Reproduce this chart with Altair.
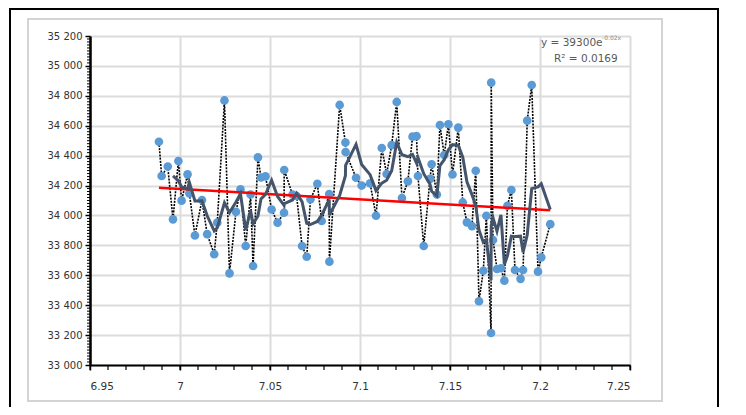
import altair as alt
import pandas as pd

# distance (x) and elevation (y), in x order
dist = [6.9883, 6.9898, 6.9932, 6.9961, 6.9991, 7.0009, 7.0042, 7.0052, 7.0083, 7.0122,
        7.0151, 7.0190, 7.0207, 7.0247, 7.0275, 7.0311, 7.0336, 7.0365, 7.0392, 7.0406,
        7.0433, 7.0450, 7.0475, 7.0509, 7.0542, 7.0578, 7.0579, 7.0625, 7.0648, 7.0678,
        7.0704, 7.0725, 7.0763, 7.0787, 7.0829, 7.0830, 7.0887, 7.0919, 7.0920, 7.0978,
        7.1009, 7.1056, 7.1089, 7.1121, 7.1148, 7.1176, 7.1204, 7.1233, 7.1266, 7.1292,
        7.1314, 7.1322, 7.1354, 7.1389, 7.1398, 7.1427, 7.1444, 7.1468, 7.1491, 7.1514,
        7.1546, 7.1571, 7.1594, 7.1622, 7.1643, 7.1661, 7.1685, 7.1702, 7.1728, 7.1729,
        7.1739, 7.1761, 7.1783, 7.1802, 7.1819, 7.1841, 7.1861, 7.1892, 7.1906, 7.1929,
        7.1954, 7.1989, 7.2007, 7.2057]
elev = [34493, 34264, 34327, 33974, 34364, 34099, 34275, 34148, 33866, 34103,
        33875, 33741, 33952, 34769, 33613, 34025, 34174, 33796, 34140, 33662,
        34388, 34254, 34261, 34040, 33952, 34018, 34304, 34140, 34130, 33796,
        33724, 34108, 34212, 33963, 34143, 33691, 34739, 34488, 34424, 34252,
        34200, 34215, 33998, 34451, 34277, 34470, 34759, 34117, 34228, 34527,
        34530, 34264, 33796, 34245, 34342, 34140, 34605, 34404, 34610, 34274,
        34587, 34087, 33954, 33929, 34299, 33426, 33630, 33998, 33214, 34888,
        33836, 33642, 33647, 33564, 34065, 34170, 33635, 33576, 33635, 34634,
        34872, 33624, 33720, 33942]

# exponential trendline end points
trend_x = [6.9883, 7.2057]
trend_y = [34185, 34035]

eq_text = "y = 39300e"
eq_exp = "-0.02x"
r2_text = "R² = 0.0169"

x_major = [6.95, 7.0, 7.05, 7.1, 7.15, 7.2, 7.25]
y_major = list(range(33000, 35201, 200))
x_minor = [round(6.95 + 0.01 * i, 2) for i in range(31)]
y_minor = [v for v in range(33000, 35201, 20) if v % 200 != 0]

df = pd.DataFrame({"idx": list(range(len(dist))), "dist": dist, "elev": elev})
trend_df = pd.DataFrame({"dist": trend_x, "elev": trend_y})

FONT = "DejaVu Sans"
xs = alt.Scale(domain=[6.95, 7.25], nice=False, zero=False)
ys = alt.Scale(domain=[33000, 35200], nice=False, zero=False)

x_axis = alt.Axis(values=x_major, title=None, grid=True, gridColor="#dcdcdc", gridWidth=2,
                  domainColor="black", domainWidth=2, tickColor="black", tickSize=5, tickWidth=1.5,
                  labelFont=FONT, labelFontSize=10.5, labelColor="#333333", labelPadding=11,
                  labelOverlap=False,
                  labelExpr="datum.value == 7 ? '7' : format(datum.value, '.2~f')")
y_axis = alt.Axis(values=y_major, title=None, grid=True, gridColor="#dcdcdc", gridWidth=2,
                  domainColor="black", domainWidth=2.5, tickColor="black", tickSize=5, tickWidth=1.5,
                  labelFont=FONT, labelFontSize=10, labelColor="#333333", labelPadding=3,
                  labelOverlap=False,
                  labelExpr="replace(format(datum.value, ',d'), ',', ' ')")


def X(field):
    return alt.X(field, scale=xs, axis=x_axis)


def Y(field):
    return alt.Y(field, scale=ys, axis=y_axis)


one = alt.Data(values=[{"a": 1}])

outer = alt.Chart(one).mark_rect(fill=None, stroke="black", strokeWidth=2).encode(
    x=alt.value(-80), x2=alt.value(628), y=alt.value(-27), y2=alt.value(420))
area = alt.Chart(one).mark_rect(fill=None, stroke="#d4d4d4", strokeWidth=2).encode(
    x=alt.value(-62), x2=alt.value(572), y=alt.value(-17), y2=alt.value(365))

dotted = alt.Chart(df).mark_line(color="black", strokeDash=[2, 1.2], strokeWidth=1.6).encode(
    x=X("dist:Q"), y=Y("elev:Q"), order="idx:Q")

points = alt.Chart(df).mark_circle(size=75, color="#5B9BD5", opacity=1).encode(
    x=X("dist:Q"), y=Y("elev:Q"))

trend = alt.Chart(trend_df).mark_line(color="#FF0000", strokeWidth=2.5).encode(
    x=X("dist:Q"), y=Y("elev:Q"))

ma = alt.Chart(df).transform_window(
    ma="mean(elev)", n="count()", frame=[-3, 0], sort=[alt.SortField("idx")]
).transform_filter("datum.n == 4").mark_line(color="#44546A", strokeWidth=3).encode(
    x=X("dist:Q"), y=Y("ma:Q"), order="idx:Q")

minor_x = alt.Chart(pd.DataFrame({"v": x_minor})).mark_rule(color="black", strokeWidth=1.2).encode(
    x=X("v:Q"), y=alt.value(329), y2=alt.value(334))
minor_y = alt.Chart(pd.DataFrame({"v": y_minor})).mark_rule(color="black", strokeWidth=1).encode(
    y=Y("v:Q"), x=alt.value(-3), x2=alt.value(0))

eq1 = alt.Chart(one).mark_text(text=eq_text, font=FONT, fontSize=10.5, color="#595959",
                               align="left", baseline="alphabetic").encode(
    x=alt.value(451), y=alt.value(10))
eq2 = alt.Chart(one).mark_text(text=eq_exp, font=FONT, fontSize=6, color="#8a8a8a",
                               align="left", baseline="alphabetic").encode(
    x=alt.value(512), y=alt.value(4))
eq3 = alt.Chart(one).mark_text(text=r2_text, font=FONT, fontSize=10.5, color="#595959",
                               align="left", baseline="alphabetic").encode(
    x=alt.value(464), y=alt.value(26))

chart = alt.layer(outer, area, dotted, minor_x, minor_y, points, trend, ma, eq1, eq2, eq3).properties(
    width=540, height=329,
    padding={"left": 82, "top": 28, "right": 100, "bottom": 42},
    autosize=alt.AutoSizeParams(type="none"),
).configure_view(stroke=None).configure(background="white")

chart.save("out.html", embed_options={"renderer": "svg", "actions": False})
